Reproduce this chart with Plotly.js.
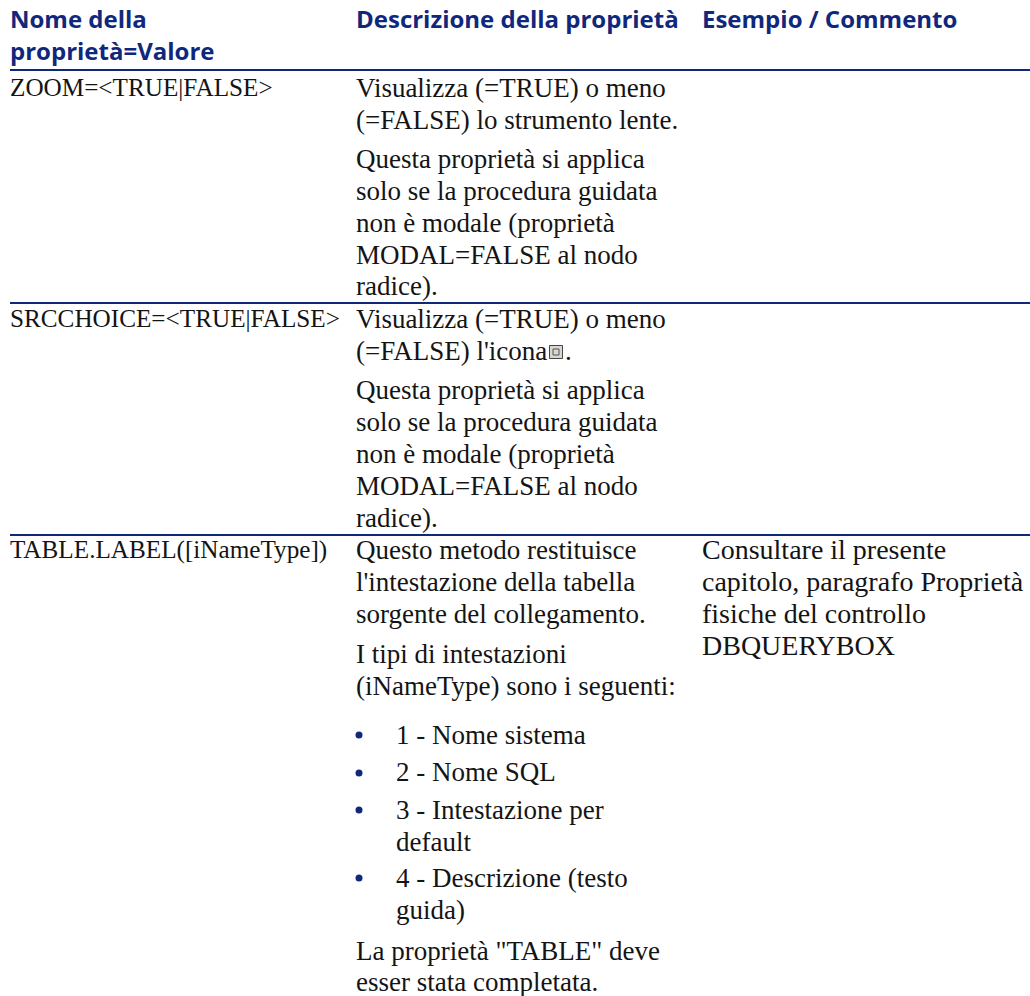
<!DOCTYPE html>
<html><head><meta charset="utf-8">
<script src="https://cdn.plot.ly/plotly-3.0.1.min.js"></script>
<style>html,body{margin:0;padding:0;background:#fff}</style></head>
<body><div id="chart" style="width:1030px;height:996px"></div>
<script>
const NAVY = '#10287c';
const INK = '#141414';
const headerText = ['Nome della','proprietà=Valore','Descrizione della proprietà','Esempio / Commento'];
const headerX = [10,10,356,702];
const headerY = [22,54,22,22];
const keyText = ['ZOOM=&lt;TRUE|FALSE&gt;','SRCCHOICE=&lt;TRUE|FALSE&gt;','TABLE.LABEL([iNameType])'];
const keyX = [10,10,10];
const keyY = [90,321,552];
const bodyText = [
 'Visualizza (=TRUE) o meno','(=FALSE) lo strumento lente.','Questa proprietà si applica','solo se la procedura guidata','non è modale (proprietà','MODAL=FALSE al nodo','radice).',
 'Visualizza (=TRUE) o meno',"(=FALSE) l'icona",'.','Questa proprietà si applica','solo se la procedura guidata','non è modale (proprietà','MODAL=FALSE al nodo','radice).',
 'Questo metodo restituisce',"l'intestazione della tabella",'sorgente del collegamento.','I tipi di intestazioni','(iNameType) sono i seguenti:',
 '1 - Nome sistema','2 - Nome SQL','3 - Intestazione per','default','4 - Descrizione (testo','guida)','La proprietà "TABLE" deve','esser stata completata.'];
const bodyX = [356,356,356,356,356,356,356,
 356,356,565,356,356,356,356,356,
 356,356,356,356,356,
 396,396,396,396,396,396,356,356];
const bodyY = [90,122,161,193,225,257,288,
 321,353,353,392,424,456,488,520,
 552,584,616,656,688,
 737,774,812,844,880,912,953,984];
const commentText = ['Consultare il presente','capitolo, paragrafo Proprietà','fisiche del controllo','DBQUERYBOX'];
const commentX = [702,702,702,702];
const commentY = [552,584,616,648];
const bulletX = [359,359,359,359];
const bulletY = [735,773,810,878];
const ruleY = [70,303,535];
const ruleStart = 10, ruleEnd = 1030;
const iconX = [556], iconY = [352];

const traces = [];
ruleY.forEach(y => traces.push({x:[ruleStart,ruleEnd],y:[y,y],mode:'lines',line:{color:NAVY,width:2},hoverinfo:'skip'}));
traces.push({x:headerX,y:headerY,text:headerText.map(t=>'<b>'+t+'</b>'),mode:'text',textposition:'middle right',
  textfont:{family:'"Open Sans"',size:24,color:NAVY},hoverinfo:'skip'});
traces.push({x:keyX,y:keyY,text:keyText,mode:'text',textposition:'middle right',
  textfont:{family:'"Liberation Serif"',size:25.2,color:INK},hoverinfo:'skip'});
traces.push({x:bodyX,y:bodyY,text:bodyText,mode:'text',textposition:'middle right',
  textfont:{family:'"Liberation Serif"',size:27,color:INK},hoverinfo:'skip'});
traces.push({x:commentX,y:commentY,text:commentText,mode:'text',textposition:'middle right',
  textfont:{family:'"Liberation Serif"',size:28,color:INK},hoverinfo:'skip'});
traces.push({x:bulletX,y:bulletY,mode:'markers',marker:{symbol:'circle',size:7,color:NAVY},hoverinfo:'skip'});
traces.push({x:iconX,y:iconY,mode:'markers',marker:{symbol:'square',size:13,color:'#d8d8d0',line:{width:1,color:'#444'}},hoverinfo:'skip'});
traces.push({x:iconX,y:iconY,mode:'markers',marker:{symbol:'square-open',size:6,color:'#555',line:{width:1,color:'#555'}},hoverinfo:'skip'});

Plotly.newPlot('chart',traces,{
  width:1030,height:996,autosize:false,showlegend:false,
  margin:{l:0,r:0,t:0,b:0},paper_bgcolor:'#fff',plot_bgcolor:'#fff',
  xaxis:{range:[0,1030],visible:false,fixedrange:true},
  yaxis:{range:[996,0],visible:false,fixedrange:true}
},{displayModeBar:false,staticPlot:true});
</script></body></html>
